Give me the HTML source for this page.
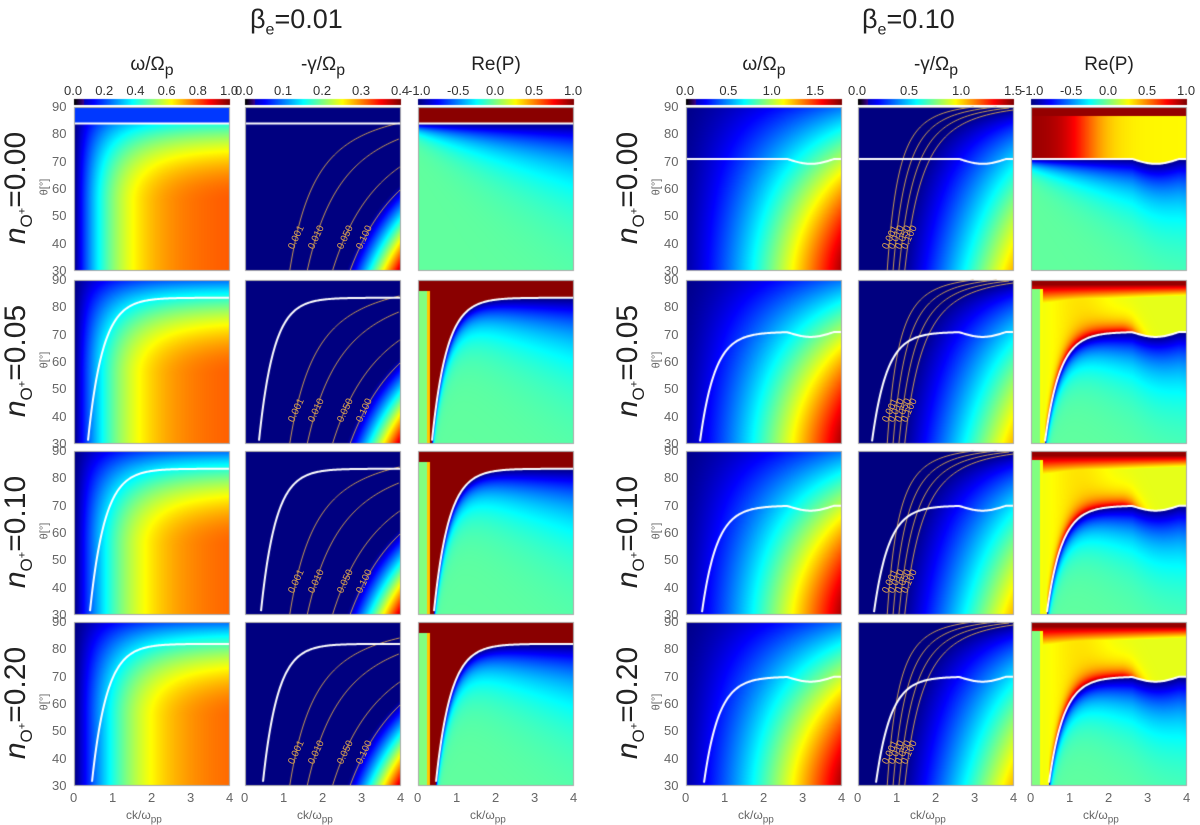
<!DOCTYPE html>
<html><head><meta charset="utf-8"><style>
body{margin:0;background:#fff;width:1200px;height:825px;overflow:hidden;position:relative;font-family:"Liberation Sans",sans-serif;}
.t{position:absolute;white-space:nowrap;color:#222;}
.g{color:#666;}
canvas{position:absolute;}
</style></head><body>
<div class="t" style="left:250px;top:4px;font-size:27px">β<sub style="font-size:16px">e</sub>=0.01</div>
<div class="t" style="left:862px;top:4px;font-size:27px">β<sub style="font-size:16px">e</sub>=0.10</div>
<canvas id="c" width="1200" height="825" style="left:0;top:0"></canvas>
<div id="lab"></div>
<script>
const rowLabels=["0.00","0.05","0.10","0.20"];
const colTitles=["ω/Ω<sub>p</sub>","-γ/Ω<sub>p</sub>","Re(P)"];
const cbTicksL=[["0.0","0.2","0.4","0.6","0.8","1.0"],["0.0","0.1","0.2","0.3","0.4"],["-1.0","-0.5","0.0","0.5","1.0"]];
const cbTicksR=[["0.0","0.5","1.0","1.5"],["0.0","0.5","1.0","1.5"],["-1.0","-0.5","0.0","0.5","1.0"]];
const yTicks=[30,40,50,60,70,80,90];
const xTicks=[0,1,2,3,4];
const asymL=[84,83.5,83.5,82];
const asymR=[71,71,70,70];
const k0L=[0,0.35,0.4,0.45];
const k0R=[0,0.35,0.4,0.45];
const gLevels=["0.001","0.010","0.050","0.100"];
const gKL=[1.15,1.6,2.25,2.7];
const gKR=[0.75,0.9,1.05,1.2];

const colX=[[74,245,418],[686,858,1031]];
const rowY=[107,280,451,622];
const PW=156,PH=164;
const cv=document.getElementById('c');const ctx=cv.getContext('2d');
const lab=document.getElementById('lab');
function jet(t){t=Math.max(0,Math.min(1,t));const c=x=>Math.round(255*Math.max(0,Math.min(1,1.5-Math.abs(x))));return [c(4*t-3),c(4*t-2),c(4*t-1)];}
function cbar(t){if(t<0.06){const f=t/0.06;return [Math.round(60*f),0,Math.round(140*f)];}return jet(t);}
function thc(b,r,k){const A=b?asymR[r]:asymL[r];const k0=b?k0R[r]:k0L[r];
 let th;if(r===0)th=A;else th=k<k0?0:30+(A-30)*(1-Math.exp(-(k-k0)/0.38));
 if(b)th+=(k>2.6&&k<3.8?-1.8*Math.sin((k-2.6)/1.2*Math.PI):0);return th;}
function gf(b,th){return Math.pow(Math.max(0.02,(92-th)/62),b?0.4:0.6);}
function field(b,c,r,k,th){
 const tc=thc(b,r,k);
 if(c===0){
  if(!b){let base=0.8*(1-Math.exp(-1.0*k));let tf=th<55?1:1-0.7*Math.pow((th-55)/35,2);
   let v=base*tf*(1-0.15*r*Math.exp(-k*0.8));if(r===0&&th>84)v=0.18;return v;}
  return (0.04+0.92*Math.pow(k/4,1.2))*(1-0.75*Math.pow((th-30)/60,1.5));}
 if(c===1){const u=k*gf(b,th);const ks=b?1.1:2.6;const sc=b?0.7:0.95;
  return sc*Math.pow(Math.max(0,(u-ks)/(4-ks)),1.1);}
 if(th>tc){
  if(!b){ if(r>0&&th<86){ if(k<0.22)return 0.5; if(k<0.3)return 0.68;} return 0.99;}
  if(r===0){const left=1/(1+Math.exp((k-1.4)/0.35));
   return Math.min(1,0.63+0.35*Math.max(left,(th>87?1:0)));}
  if(th<87&&k<0.3) return k<0.22?0.5:0.62;
  const dd=th-tc;
  let base=0.6+0.05*Math.exp(-Math.pow((k-1.2)/0.8,2));
  let near=0.36*Math.exp(-dd/3)*(k<2.3?1:Math.exp(-Math.pow(k-2.3,2)/0.2));
  let top=0.98-0.07*Math.max(0,88.5-th)*(0.7+0.15*k);
  return Math.min(0.99,Math.max(base+near,top));}
 const d=tc-th;return 0.47-0.47*Math.exp(-d/(2.5+3*k));
}
for(let b=0;b<2;b++)for(let c=0;c<3;c++)for(let r=0;r<4;r++){
 const x0=colX[b][c],y0=rowY[r];const img=ctx.createImageData(PW,PH);
 for(let j=0;j<PH;j++){const th=90-60*j/(PH-1);for(let i=0;i<PW;i++){const k=4*i/(PW-1);
  const col=jet(field(b,c,r,k,th));const o=(j*PW+i)*4;img.data[o]=col[0];img.data[o+1]=col[1];img.data[o+2]=col[2];img.data[o+3]=255;}}
 ctx.putImageData(img,x0,y0);
 if(c===1){ctx.strokeStyle='#c89a55';ctx.lineWidth=1;const KS=b?gKR:gKL;
  KS.forEach((K,li)=>{ctx.beginPath();let st=false;for(let j=0;j<PH;j++){const th=90-60*j/(PH-1);const k=K/gf(b,th);
   if(k>4){st=false;continue;}const X=x0+k/4*PW,Y=y0+j;if(!st){ctx.moveTo(X,Y);st=true;}else ctx.lineTo(X,Y);}ctx.stroke();
   const jj=Math.round(PH*0.8);const th=90-60*jj/(PH-1);const k=K/gf(b,th);
   if(k<3.8){const d=document.createElement('div');d.className='t';
    d.style.cssText=`left:${x0+k/4*PW-12}px;top:${y0+jj-6}px;font-size:10px;color:#d9a050;transform:rotate(-65deg)`;d.textContent=gLevels[li];lab.appendChild(d);}});
 }
 ctx.strokeStyle='#fff';ctx.lineWidth=2;ctx.beginPath();let st=false;
 for(let i=0;i<=PW;i++){const k=4*i/PW;const th=thc(b,r,k);if(th<30){continue;}const Y=y0+(90-th)/60*PH;if(!st){ctx.moveTo(x0+i,Y);st=true;}else ctx.lineTo(x0+i,Y);}ctx.stroke();
 ctx.strokeStyle='#aaa';ctx.lineWidth=1;ctx.strokeRect(x0+0.5,y0+0.5,PW-1,PH-1);
 if(c===0){yTicks.forEach(v=>{const d=document.createElement('div');d.className='t g';
  d.style.cssText=`left:${x0-22}px;top:${y0+(90-v)/60*PH-8}px;font-size:13px`;d.textContent=v;lab.appendChild(d);});
  const yl=document.createElement('div');yl.className='t g';
  yl.style.cssText=`left:${x0-38}px;top:${y0+PH/2-8}px;font-size:11px;transform:rotate(-90deg)`;yl.innerHTML='θ[°]';lab.appendChild(yl);
  const rl=document.createElement('div');rl.className='t';
  rl.style.cssText=`left:${x0-136}px;top:${y0+PH/2-20}px;font-size:30px;transform:rotate(-90deg);width:160px;text-align:center`;
  rl.innerHTML='<i>n</i><sub style="font-size:17px">O<sup style="font-size:11px">+</sup></sub>='+rowLabels[r];lab.appendChild(rl);}
 if(r===3){xTicks.forEach(v=>{const d=document.createElement('div');d.className='t g';
  d.style.cssText=`left:${x0+v/4*PW-4}px;top:${y0+PH+4}px;font-size:13px`;d.textContent=v;lab.appendChild(d);});
  const xl=document.createElement('div');xl.className='t g';
  xl.style.cssText=`left:${x0+PW/2-26}px;top:${y0+PH+22}px;font-size:12px`;xl.innerHTML='ck/ω<sub>pp</sub>';lab.appendChild(xl);}
}
for(let b=0;b<2;b++)for(let c=0;c<3;c++){const x0=colX[b][c];
 for(let i=0;i<PW;i++){const col=c===2?jet(i/(PW-1)):cbar(i/(PW-1));ctx.fillStyle=`rgb(${col})`;ctx.fillRect(x0+i,99,1,6);}
 const tk=b?cbTicksR[c]:cbTicksL[c];const n=(b&&c===0)?1.8/0.5:tk.length-1;
 tk.forEach((s,i)=>{const d=document.createElement('div');d.className='t';
  d.style.cssText=`left:${x0+i/n*PW-10}px;top:83px;font-size:13px;color:#333`;d.textContent=s;lab.appendChild(d);});
 const t=document.createElement('div');t.className='t';
 t.style.cssText=`left:${x0+PW/2-30}px;top:54px;font-size:19px;width:60px;text-align:center`;t.innerHTML=colTitles[c];lab.appendChild(t);}
</script>
</body></html>
